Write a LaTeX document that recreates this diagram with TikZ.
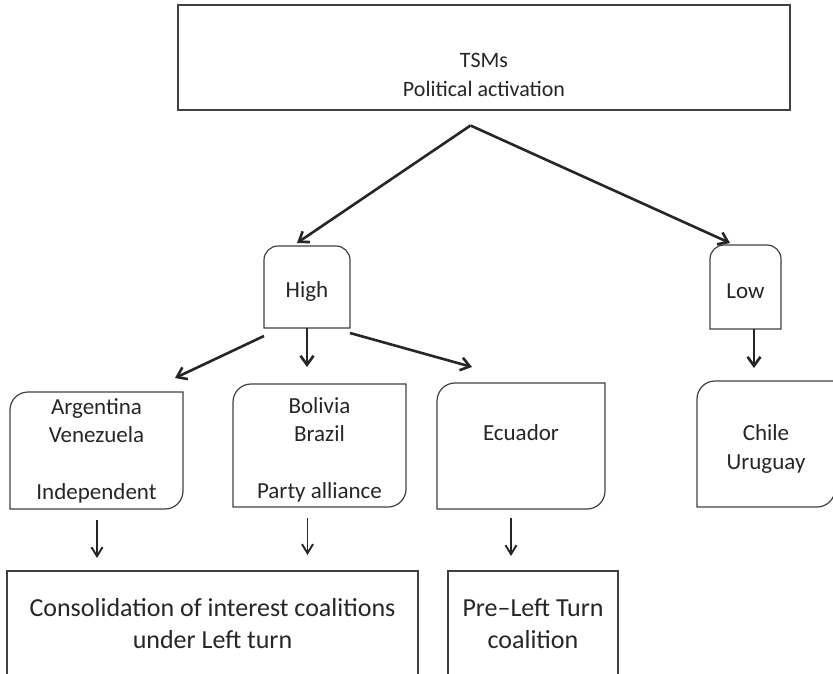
\documentclass[tikz,border=0pt]{standalone}
\usepackage{fontspec}
\setmainfont{Carlito}
\usetikzlibrary{arrows.meta,calc}

\begin{document}
\begin{tikzpicture}[
    x=1pt, y=1pt,
    arrow/.style={-{Straight Barb[length=9pt,width=13pt]}, line width=2.6pt, draw=black!85},
    thinarrow/.style={-{Straight Barb[length=9pt,width=11pt]}, line width=1.9pt, draw=black!85},
    box/.style={draw=black!75, line width=1.2pt, align=center, inner sep=0pt, outer sep=0pt, text=black!85},
    tagbox/.style={align=center, inner sep=0pt, outer sep=0pt, text=black!85,
        font=\fontsize{23}{28.5}\selectfont},
    edge/.style={draw=black!75, line width=1.2pt}
]
\useasboundingbox (0,0) rectangle (833,-673);
\clip (0,0) rectangle (833,-673);

% Top
\node[box, minimum width=612pt, minimum height=105pt, font=\fontsize{22}{29}\selectfont] (tsm) at (484,-57.5)
    {\strut\\TSMs\\Political activation};

% Activation level
\node[tagbox, minimum width=86pt, minimum height=82pt] (high) at (307,-287) {\rule{0pt}{24pt}High};
\node[tagbox, minimum width=71pt, minimum height=84pt] (low) at (745.5,-287) {\rule{0pt}{24pt}Low};

% Cases
\node[tagbox, minimum width=173pt, minimum height=117pt] (arg) at (96.5,-450.5)
    {Argentina\\Venezuela\\[28pt]Independent};
\node[tagbox, minimum width=173pt, minimum height=123pt] (bol) at (319.5,-445.5)
    {\rule{0pt}{24pt}Bolivia\\Brazil\\[28pt]Party alliance};
\node[tagbox, minimum width=168pt, minimum height=126pt] (ecu) at (521,-446) {\rule{0pt}{26pt}Ecuador\\\strut};
\node[tagbox, minimum width=138pt, minimum height=126pt] (chl) at (766,-444) {\rule{0pt}{26pt}Chile\\Uruguay};

% Outcomes
\node[box, minimum width=411pt, minimum height=106pt, font=\fontsize{26}{32}\selectfont] (cons) at (212.5,-624)
    {Consolidation of interest coalitions\\under Left turn};
\node[box, minimum width=170pt, minimum height=106pt, font=\fontsize{26}{32}\selectfont] (pre) at (533,-624)
    {Pre--Left Turn\\coalition};

% Outlines with rounded top corners
\foreach \n in {high,low}
  \draw[edge] (\n.south west) -- ([yshift=-14pt]\n.north west) arc[start angle=180, end angle=90, radius=14pt]
    -- ([xshift=-14pt]\n.north east) arc[start angle=90, end angle=0, radius=14pt] -- (\n.south east) -- cycle;

% Outlines with rounded top-left and bottom-right corners
\foreach \n in {arg,bol,ecu,chl}
  \draw[edge] (\n.south west) -- ([yshift=-18pt]\n.north west) arc[start angle=180, end angle=90, radius=18pt]
    -- (\n.north east) -- ([yshift=18pt]\n.south east) arc[start angle=0, end angle=-90, radius=18pt] -- cycle;

% Arrows
\coordinate (split) at ($(tsm.south)+(-13.5,-15.5)$);
\draw[arrow] (split) -- ($(high.north)+(-10,3)$);
\draw[arrow] (split) -- ($(low.north)+(-15.5,2)$);

\draw[arrow] ($(high.south west)+(0,-8)$) -- ($(arg.north east)+(-8,14)$);
\draw[arrow] (high.south) -- ($(bol.north -| high.south)+(0,17)$);
\draw[arrow] ($(high.south east)+(0,-5)$) -- ($(ecu.north west)+(35,16)$);
\draw[arrow] ($(low.south)+(8.5,0)$) -- ($(chl.north -| low.south)+(8.5,13)$);

\draw[thinarrow] ($(arg.south)+(0.5,-11)$) -- ($(cons.north -| arg.south)+(0.5,13)$);
\draw[thinarrow] ($(bol.south)+(-12,-11)$) -- ($(cons.north -| bol.south)+(-12,16)$);
\draw[thinarrow] ($(ecu.south)+(-10,-9)$) -- ($(pre.north -| ecu.south)+(-10,15)$);

\end{tikzpicture}
\end{document}
